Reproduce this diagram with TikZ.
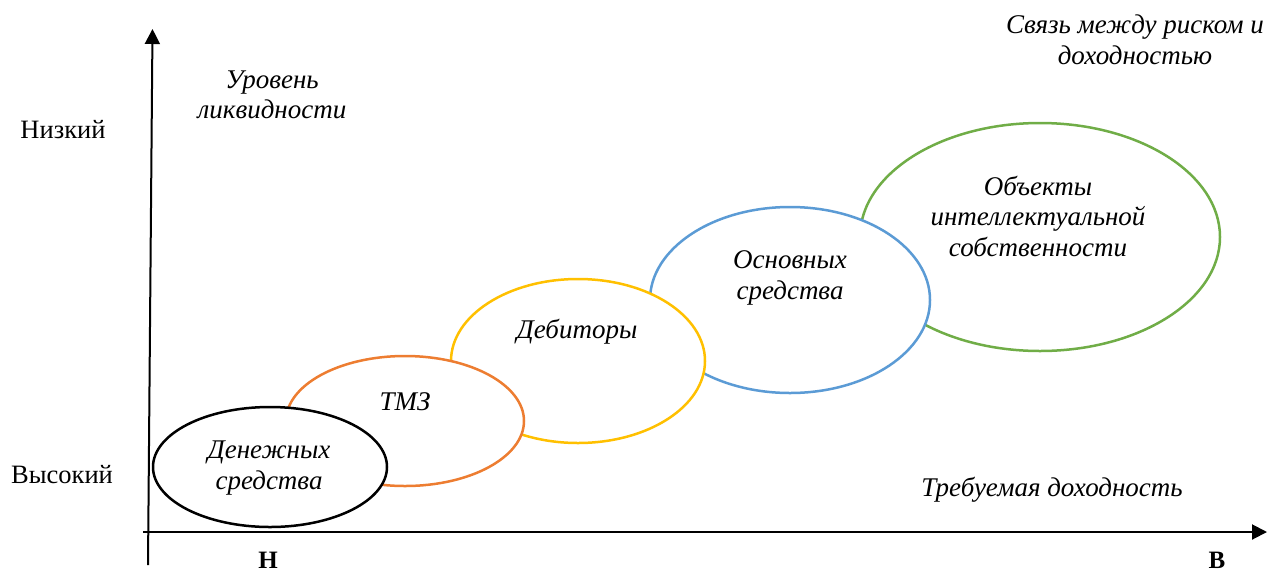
\documentclass[tikz,border=0pt]{standalone}
\usepackage{fontspec}
\setmainfont{Liberation Serif}
\usetikzlibrary{shapes.geometric,arrows.meta}
\definecolor{cOrange}{HTML}{ED7D31}
\definecolor{cYellow}{HTML}{FFC000}
\definecolor{cBlue}{HTML}{5B9BD5}
\definecolor{cGreen}{HTML}{70AD47}
\tikzset{
  oval/.style={ellipse, draw, line width=2.5pt, fill=white, inner sep=0pt},
  itxt/.style={font=\fontsize{27}{30.5}\selectfont\itshape, align=center, inner sep=0pt},
  rtxt/.style={font=\fontsize{26.5}{30}\selectfont, align=center, inner sep=0pt},
  btxt/.style={font=\fontsize{25}{30}\selectfont\bfseries, inner sep=0pt, anchor=base},
  axis/.style={line width=2pt, -{Triangle[length=15pt,width=15pt]}}
}
\begin{document}
\begin{tikzpicture}[x=1pt,y=-1pt]
\useasboundingbox (0,0) rectangle (1269,574);
% axes
\coordinate (yb) at (148,565);
\coordinate (yt) at (152.5,29);
\coordinate (xl) at (143,532);
\coordinate (xr) at (1267,532);
\draw[axis] (yb) -- (yt);
\draw[axis] (xl) -- (xr);
% ellipses, back to front
\node[oval, draw=cGreen, minimum width=360pt, minimum height=228pt] (eg) at (1040,237) {};
\node[oval, draw=cBlue, minimum width=280pt, minimum height=186pt] (eb) at (790,300) {};
\node[oval, draw=cYellow, minimum width=254pt, minimum height=164pt] (ey) at (578,361) {};
\node[oval, draw=cOrange, minimum width=238pt, minimum height=130pt] (eo) at (405,421) {};
\node[oval, draw=black, minimum width=234pt, minimum height=120pt] (ek) at (270,467) {};
% texts in ellipses
\node[itxt] (tk) at (269,468) {Денежных\\средства};
\node[itxt] (to) at (405,402) {ТМЗ};
\node[itxt] (ty) at (577,332) {Дебиторы};
\node[itxt] (tb) at (790,278) {Основных\\средства};
\node[itxt] (tg) at (1038,216) {Объекты\\интеллектуальной\\собственности};
% axis labels
\node[rtxt] (low) at (63,130) {Низкий};
\node[rtxt] (high) at (62,475) {Высокий};
\node[itxt] (liq) at (272,95) {Уровень\\ликвидности};
\node[itxt] (risk) at (1135,40) {Связь между риском и\\доходностью};
\node[itxt] (ret) at (1052,490) {Требуемая доходность};
\node[btxt] (n) at (268,568) {Н};
\node[btxt] (v) at (1217,568) {В};
\end{tikzpicture}
\end{document}
